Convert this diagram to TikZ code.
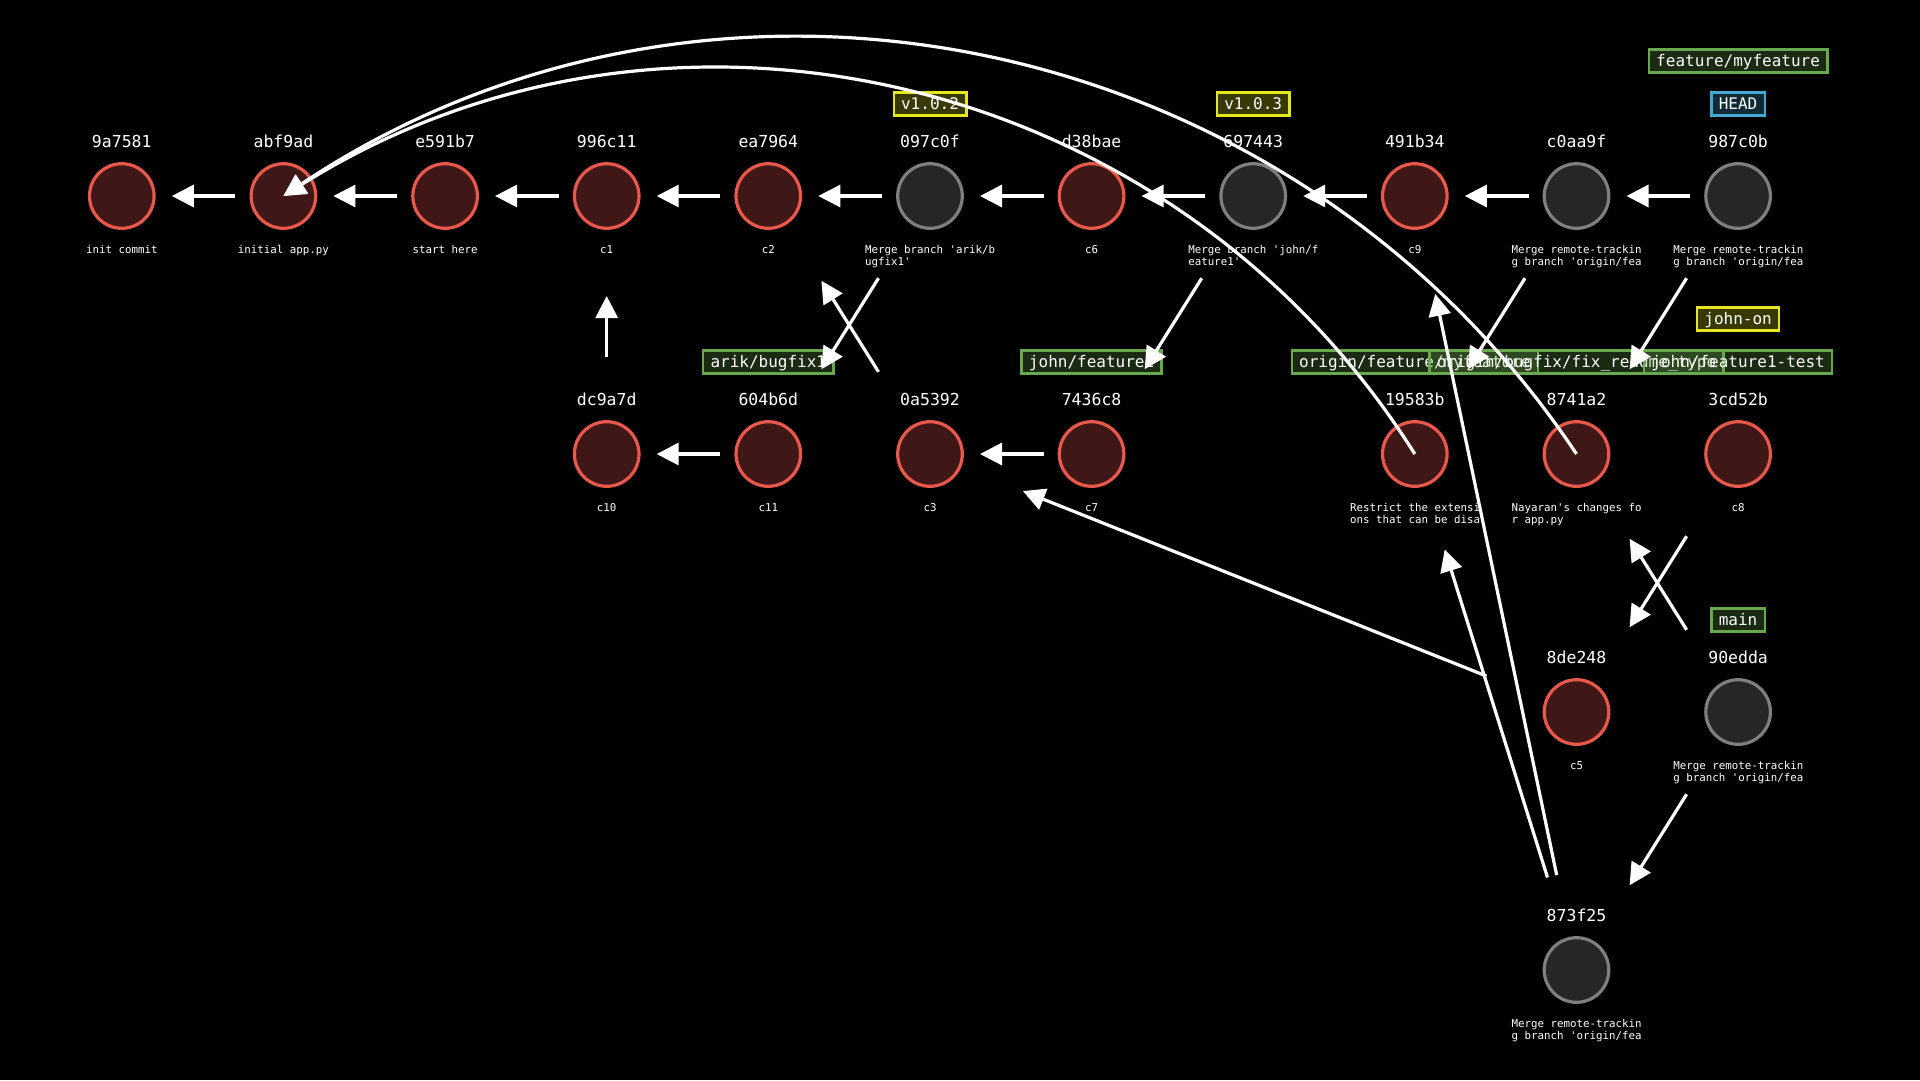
\documentclass[tikz,border=0pt]{standalone}
\usepackage{fontspec}
\setmonofont{DejaVu Sans Mono}
\usetikzlibrary{arrows.meta}
\definecolor{redst}{HTML}{E8594B}
\definecolor{redfi}{HTML}{3F1717}
\definecolor{grst}{HTML}{7F7F7F}
\definecolor{grfi}{HTML}{262626}
\definecolor{brc}{HTML}{6AA84F}
\definecolor{tagc}{HTML}{E6E61E}
\definecolor{headc}{HTML}{44AAD4}
\tikzset{
  commitc/.style={circle, line width=3.2pt, minimum size=64.6pt, inner sep=0pt},
  redc/.style={commitc, draw=redst, fill=redfi},
  grayc/.style={commitc, draw=grst, fill=grfi},
  hashl/.style={font=\ttfamily\fontsize{16.5}{19}\selectfont, text=white, inner sep=0pt, anchor=base},
  msgl/.style={font=\ttfamily\fontsize{10.8}{12}\selectfont, text=white, inner sep=0pt, anchor=base},
  msgw/.style={msgl, anchor=base west},
  lbl/.style={font=\ttfamily\fontsize{16}{19}\selectfont, text=white, line width=2.4pt,
    inner xsep=7.4pt, inner ysep=0pt, minimum height=23pt, text height=13pt, text depth=2pt,
    fill opacity=0.25, text opacity=1, draw opacity=1},
  branchl/.style={lbl, draw=brc, fill=brc},
  tagl/.style={lbl, draw=tagc, fill=tagc},
  headl/.style={lbl, draw=headc, fill=headc},
  arr/.style={draw=white, line width=3.2pt, -{Triangle[length=22pt,width=22pt]}},
  hor/.style={arr, shorten <=48pt, shorten >=50pt},
  dia/.style={arr, shorten <=97pt, shorten >=100pt},
}
\newcommand\gcom[4]{%
  \node[#4] (n#1) at (#2,#3) {};
  \node[hashl] (h#1) at (#2,#3-49) {#1};}
\newcommand\gmsg[4]{%
  \node[msgl] (m#1) at (#2,#3+57.5) {#4};}
\newcommand\gmsgg[5]{%
  \node[msgw] (m#1) at (#2-65,#3+57.5) {#4};
  \node[msgw] (m#1b) at (#2-65,#3+69.7) {#5};}
\begin{document}
\begin{tikzpicture}[x=1pt,y=-1pt]
\fill[black] (0,0) rectangle (1920,1080);
\useasboundingbox (0,0) rectangle (1920,1080);
% labels
\node[tagl] (lv102) at (930.0,104) {v1.0.2};
\node[tagl] (lv103) at (1253.2,104) {v1.0.3};
\node[headl] (lhead) at (1738.1,104) {HEAD};
\node[branchl] (lmyfeat) at (1738.1,61) {feature/myfeature};
\node[branchl] (larik) at (768.3,362) {arik/bugfix1};
\node[branchl] (ljohn) at (1091.6,362) {john/feature1};
\node[branchl] (lorigfeat) at (1414.8,362) {origin/feature/myfeature};
\node[branchl] (lorigbug) at (1576.5,362) {origin/bugfix/fix\_readme\_typo};
\node[branchl] (ljohntest) at (1738.1,362) {john/feature1-test};
\node[tagl] (ljohnon) at (1738.1,319) {john-on};
\node[branchl] (lmain) at (1738.1,620) {main};
% row 1
\gcom{9a7581}{121.8}{196}{redc}\gmsg{9a7581}{121.8}{196}{init commit}
\gcom{abf9ad}{283.4}{196}{redc}\gmsg{abf9ad}{283.4}{196}{initial app.py}
\gcom{e591b7}{445.1}{196}{redc}\gmsg{e591b7}{445.1}{196}{start here}
\gcom{996c11}{606.7}{196}{redc}\gmsg{996c11}{606.7}{196}{c1}
\gcom{ea7964}{768.3}{196}{redc}\gmsg{ea7964}{768.3}{196}{c2}
\gcom{097c0f}{930.0}{196}{grayc}\gmsgg{097c0f}{930.0}{196}{Merge branch 'arik/b}{ugfix1'}
\gcom{d38bae}{1091.6}{196}{redc}\gmsg{d38bae}{1091.6}{196}{c6}
\gcom{697443}{1253.2}{196}{grayc}\gmsgg{697443}{1253.2}{196}{Merge branch 'john/f}{eature1'}
\gcom{491b34}{1414.8}{196}{redc}\gmsg{491b34}{1414.8}{196}{c9}
\gcom{c0aa9f}{1576.5}{196}{grayc}\gmsgg{c0aa9f}{1576.5}{196}{Merge remote-trackin}{g branch 'origin/fea}
\gcom{987c0b}{1738.1}{196}{grayc}\gmsgg{987c0b}{1738.1}{196}{Merge remote-trackin}{g branch 'origin/fea}
% row 2
\gcom{dc9a7d}{606.7}{454}{redc}\gmsg{dc9a7d}{606.7}{454}{c10}
\gcom{604b6d}{768.3}{454}{redc}\gmsg{604b6d}{768.3}{454}{c11}
\gcom{0a5392}{930.0}{454}{redc}\gmsg{0a5392}{930.0}{454}{c3}
\gcom{7436c8}{1091.6}{454}{redc}\gmsg{7436c8}{1091.6}{454}{c7}
\gcom{19583b}{1414.8}{454}{redc}\gmsgg{19583b}{1414.8}{454}{Restrict the extensi}{ons that can be disa}
\gcom{8741a2}{1576.5}{454}{redc}\gmsgg{8741a2}{1576.5}{454}{Nayaran's changes fo}{r app.py}
\gcom{3cd52b}{1738.1}{454}{redc}\gmsg{3cd52b}{1738.1}{454}{c8}
% row 3
\gcom{8de248}{1576.5}{712}{redc}\gmsg{8de248}{1576.5}{712}{c5}
\gcom{90edda}{1738.1}{712}{grayc}\gmsgg{90edda}{1738.1}{712}{Merge remote-trackin}{g branch 'origin/fea}
% row 4
\gcom{873f25}{1576.5}{970}{grayc}\gmsgg{873f25}{1576.5}{970}{Merge remote-trackin}{g branch 'origin/fea}
% arrows
\draw[hor] (nabf9ad.center) -- (n9a7581.center);
\draw[hor] (ne591b7.center) -- (nabf9ad.center);
\draw[hor] (n996c11.center) -- (ne591b7.center);
\draw[hor] (nea7964.center) -- (n996c11.center);
\draw[hor] (n097c0f.center) -- (nea7964.center);
\draw[hor] (nd38bae.center) -- (n097c0f.center);
\draw[hor] (n697443.center) -- (nd38bae.center);
\draw[hor] (n491b34.center) -- (n697443.center);
\draw[hor] (nc0aa9f.center) -- (n491b34.center);
\draw[hor] (n987c0b.center) -- (nc0aa9f.center);
\draw[hor] (n604b6d.center) -- (ndc9a7d.center);
\draw[hor] (n7436c8.center) -- (n0a5392.center);
\draw[dia] (ndc9a7d.center) -- (n996c11.center);
\draw[dia] (n097c0f.center) -- (n604b6d.center);
\draw[dia] (n0a5392.center) -- (nea7964.center);
\draw[dia] (n697443.center) -- (n7436c8.center);
\draw[dia] (nc0aa9f.center) -- (n19583b.center);
\draw[dia] (n987c0b.center) -- (n8741a2.center);
\draw[dia] (n873f25.center) -- (n491b34.center);
\draw[dia] (n873f25.center) -- (n19583b.center);
\draw[dia] (n8de248.center) -- (n0a5392.center);
\draw[dia] (n90edda.center) -- (n873f25.center);
\draw[dia] (n3cd52b.center) -- (n8de248.center);
\draw[dia] (n90edda.center) -- (n8741a2.center);
\draw[arr] (n19583b.center) .. controls (1173.7,70.4) and (667.0,-45.1) .. (nabf9ad.center);
\draw[arr] (n8741a2.center) .. controls (1290.7,25.7) and (711.7,-89.8) .. (nabf9ad.center);
\end{tikzpicture}
\end{document}
